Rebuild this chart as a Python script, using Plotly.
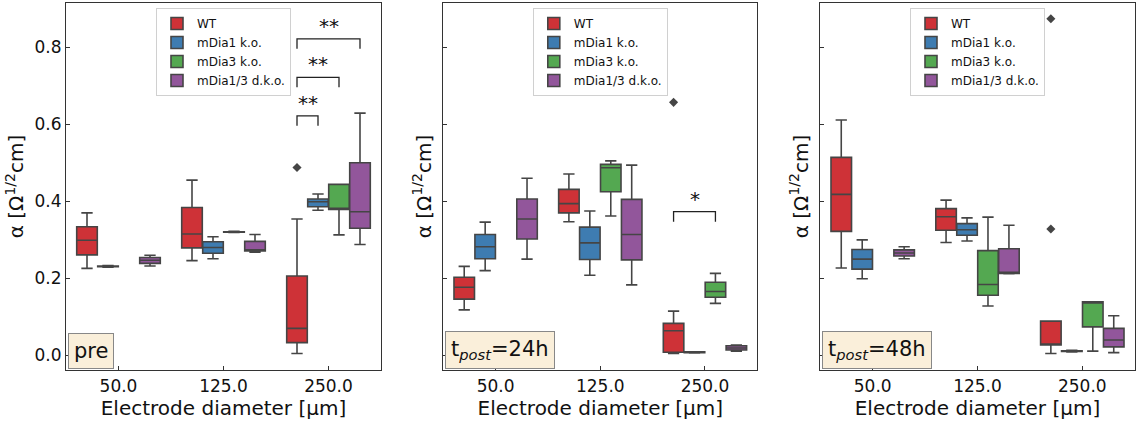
import plotly.graph_objects as go

# ---------------- data ----------------
CATEGORIES = ["50.0", "125.0", "250.0"]
GROUPS = ["WT", "mDia1 k.o.", "mDia3 k.o.", "mDia1/3 d.k.o."]
PANEL_LABELS = ["pre", "t<sub><i>post</i></sub>=24h", "t<sub><i>post</i></sub>=48h"]

# stats per category: (lower whisker, q1, median, q3, upper whisker); None = no data
PRE_WT = [(0.226, 0.261, 0.299, 0.334, 0.370), (0.246, 0.279, 0.315, 0.384, 0.455), (0.005, 0.033, 0.070, 0.206, 0.354)]
PRE_D1 = [(0.229, 0.230, 0.231, 0.232, 0.233), (0.251, 0.265, 0.280, 0.295, 0.308), (0.377, 0.386, 0.399, 0.406, 0.419)]
PRE_D3 = [None, (0.319, 0.320, 0.320, 0.321, 0.322), (0.313, 0.379, 0.380, 0.444, 0.444)]
PRE_DKO = [(0.232, 0.239, 0.247, 0.254, 0.260), (0.268, 0.271, 0.274, 0.296, 0.314), (0.288, 0.330, 0.373, 0.500, 0.629)]

H24_WT = [(0.118, 0.146, 0.177, 0.203, 0.231), (0.347, 0.370, 0.394, 0.431, 0.471), (0.005, 0.008, 0.064, 0.083, 0.115)]
H24_D1 = [(0.220, 0.251, 0.282, 0.314, 0.346), (0.208, 0.249, 0.292, 0.333, 0.375), (0.006, 0.007, 0.008, 0.009, 0.009)]
H24_D3 = [None, (0.362, 0.425, 0.487, 0.496, 0.505), (0.135, 0.151, 0.166, 0.190, 0.213)]
H24_DKO = [(0.250, 0.302, 0.354, 0.406, 0.460), (0.183, 0.248, 0.314, 0.405, 0.494), (0.011, 0.014, 0.019, 0.025, 0.027)]

H48_WT = [(0.227, 0.322, 0.418, 0.514, 0.611), (0.293, 0.325, 0.360, 0.381, 0.403), (0.005, 0.027, 0.028, 0.089, 0.089)]
H48_D1 = [(0.199, 0.224, 0.250, 0.275, 0.300), (0.297, 0.312, 0.326, 0.342, 0.357), (0.009, 0.010, 0.011, 0.012, 0.013)]
H48_D3 = [None, (0.128, 0.156, 0.184, 0.272, 0.359), (0.011, 0.074, 0.139, 0.139, 0.139)]
H48_DKO = [(0.251, 0.258, 0.266, 0.274, 0.282), (0.212, 0.213, 0.214, 0.277, 0.338), (0.007, 0.022, 0.040, 0.070, 0.103)]

# outliers: (group index, category, value)
PRE_OUT = [(0, "250.0", 0.488)]
H24_OUT = [(0, "250.0", 0.657)]
H48_OUT = [(0, "250.0", 0.874), (0, "250.0", 0.328)]

# significance brackets: (category index, group a, group b, bracket height, label)
PRE_SIG = [(2, 0, 1, 0.622, "**"), (2, 0, 2, 0.722, "**"), (2, 0, 3, 0.822, "**")]
H24_SIG = [(2, 0, 2, 0.373, "*")]
H48_SIG = []

PANELS = [
    ([PRE_WT, PRE_D1, PRE_D3, PRE_DKO], PRE_OUT, PRE_SIG),
    ([H24_WT, H24_D1, H24_D3, H24_DKO], H24_OUT, H24_SIG),
    ([H48_WT, H48_D1, H48_D3, H48_DKO], H48_OUT, H48_SIG),
]

# ---------------- style ----------------
COLORS = ["rgb(206,50,55)", "rgb(62,124,177)", "rgb(84,168,81)", "rgb(146,86,155)"]
LINE = "#454545"
FONT = "DejaVu Sans"
W, H = 1144, 423
ML, MR, MT, MB = 66, 9, 3, 53
PW = W - ML - MR
PH = H - MT - MB
DOMAINS = [((66 - ML) / PW, (381 - ML) / PW),
           ((443.3 - ML) / PW, (757.3 - ML) / PW),
           ((820.3 - ML) / PW, (1134.7 - ML) / PW)]
YRANGE = [-0.038, 0.915]
NG = len(GROUPS)
SLOT = 0.8 / NG
LEG = 0.026
LEGEND_TOP = 1 - 5 / PH

fig = go.Figure()
shapes = []
annotations = []

for p, (stats, outs, sigs) in enumerate(PANELS):
    sfx = "" if p == 0 else str(p + 1)
    xa, ya = "x" + sfx, "y" + sfx
    leg = "legend" + sfx
    for g, name in enumerate(GROUPS):
        cats = [c for c, s in zip(CATEGORIES, stats[g]) if s is not None]
        vals = [s for s in stats[g] if s is not None]
        fig.add_trace(go.Box(
            x=cats,
            lowerfence=[v[0] for v in vals], q1=[v[1] for v in vals],
            median=[v[2] for v in vals], q3=[v[3] for v in vals],
            upperfence=[v[4] for v in vals],
            name=name, legend=leg, showlegend=True,
            fillcolor=COLORS[g], line=dict(color=LINE, width=1.6),
            whiskerwidth=0.55, boxpoints=False,
            offsetgroup=name, alignmentgroup="p%d" % p,
            xaxis=xa, yaxis=ya,
        ))
        og = [(c, v) for (gi, c, v) in outs if gi == g]
        if og:
            fig.add_trace(go.Box(
                x=[c for c, v in og], y=[v for c, v in og],
                name=name, showlegend=False, legend=leg,
                boxpoints="all", jitter=0, pointpos=0,
                fillcolor="rgba(0,0,0,0)", line=dict(color="rgba(0,0,0,0)", width=0),
                marker=dict(symbol="diamond", size=7, color=LINE),
                offsetgroup=name, alignmentgroup="p%d" % p,
                xaxis=xa, yaxis=ya,
            ))
    for (ci, ga, gb, yt, lab) in sigs:
        xa0 = ci + (ga - (NG - 1) / 2) * SLOT
        xb0 = ci + (gb - (NG - 1) / 2) * SLOT
        shapes.append(dict(type="path", xref=xa, yref=ya,
                           path="M %f,%f L %f,%f L %f,%f L %f,%f" % (xa0, yt - LEG, xa0, yt, xb0, yt, xb0, yt - LEG),
                           line=dict(color="#222", width=1.3)))
        annotations.append(dict(x=(xa0 + xb0) / 2, y=yt, xref=xa, yref=ya, text=lab,
                                showarrow=False, yanchor="bottom", xanchor="center",
                                font=dict(size=20, color="#111", family=FONT), yshift=-1))
    annotations.append(dict(x=0.006, y=0.004, xref=xa + " domain", yref=ya + " domain",
                            text=PANEL_LABELS[p], showarrow=False, xanchor="left", yanchor="bottom",
                            font=dict(size=21, color="#111", family=FONT),
                            bgcolor="rgb(250,239,218)", bordercolor="#888", borderwidth=1, borderpad=5))

    axcommon = dict(showline=True, linecolor="#333", linewidth=1.2, mirror=True,
                    ticks="inside", ticklen=4, tickwidth=1, tickcolor="#333",
                    showgrid=False, zeroline=False)
    fig.update_layout(**{
        "xaxis" + sfx: dict(axcommon, domain=DOMAINS[p], anchor=ya, type="category",
                            categoryorder="array", categoryarray=CATEGORIES,
                            range=[-0.5, 2.5],
                            tickfont=dict(size=17, family=FONT, color="#111"),
                            title=dict(text="Electrode diameter [μm]", standoff=5,
                                       font=dict(size=20, family=FONT, color="#111"))),
        "yaxis" + sfx: dict(axcommon, domain=[0, 1], anchor=xa, range=YRANGE,
                            tickvals=[0.0, 0.2, 0.4, 0.6, 0.8],
                            ticktext=["0.0", "0.2", "0.4", "0.6", "0.8"],
                            showticklabels=(p == 0),
                            tickfont=dict(size=17, family=FONT, color="#111"),
                            title=dict(text="α [Ω<sup>1/2</sup>cm]", standoff=5,
                                       font=dict(size=20, family=FONT, color="#111"))),
        leg: dict(x=(DOMAINS[p][0] + DOMAINS[p][1]) / 2, xanchor="center",
                  y=LEGEND_TOP, yanchor="top",
                  bgcolor="rgba(255,255,255,0.85)", bordercolor="#d0d0d0", borderwidth=1,
                  font=dict(size=12, family=FONT, color="#111"), itemwidth=30,
                  tracegroupgap=0),
    })

fig.update_layout(
    width=W, height=H,
    margin=dict(l=ML, r=MR, t=MT, b=MB, pad=0),
    paper_bgcolor="white", plot_bgcolor="white",
    boxmode="group", boxgap=0.2, boxgroupgap=0.02,
    shapes=shapes, annotations=annotations,
    font=dict(family=FONT, color="#111"),
)

fig.write_html("out.html")
